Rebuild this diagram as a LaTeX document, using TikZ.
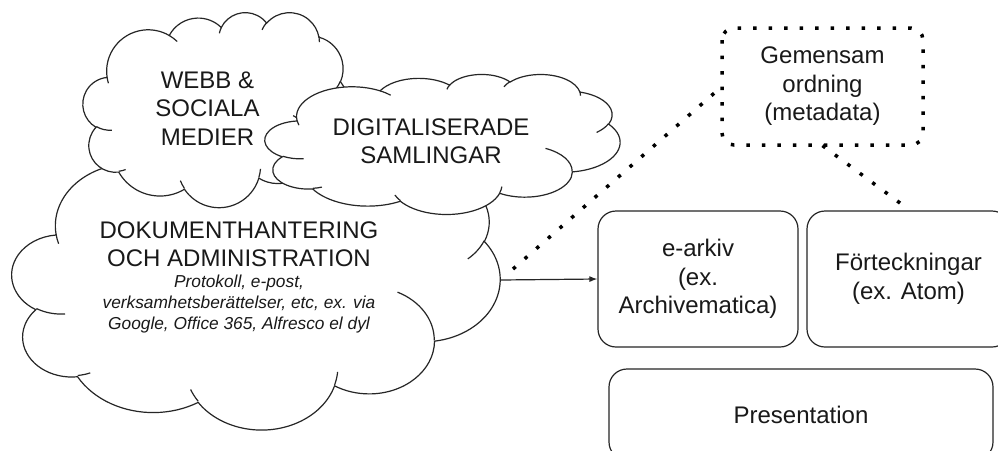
\documentclass[tikz,border=0pt]{standalone}
\usepackage{fontspec}
\setmainfont{Liberation Sans}
\usetikzlibrary{arrows.meta,calc}

% OOXML-style cloud arc: wR hR stAng swAng (visual angles, degrees)
\newcommand\cloudcalc[4]{%
  \pgfmathsetmacro\cta{atan2(#1*sin(#3),#2*cos(#3))}%
  \pgfmathsetmacro\cte{atan2(#1*sin(#3+#4),#2*cos(#3+#4))}%
  \pgfmathsetmacro\cte{\cte<\cta ? \cte+360 : \cte}%
  \xdef\cta{\cta}\xdef\cte{\cte}}
\newcommand\carc[4]{\pgfextra{\cloudcalc{#1}{#2}{#3}{#4}} arc[start angle=\cta, end angle=\cte, x radius=#1, y radius=#2]}

\tikzset{
  cloudline/.style={draw=black!85, line width=1.2pt, fill=white},
  bigtxt/.style={font=\fontsize{24}{28.5}\selectfont, align=center, inner sep=0pt, text=black!90},
  smalltxt/.style={font=\itshape\fontsize{17.3}{21}\selectfont, align=center, inner sep=0pt, text=black!90},
  boxstyle/.style={draw=black!85, line width=1.2pt, rounded corners=18pt, align=center,
    font=\fontsize{24}{28.5}\selectfont, text=black!90, inner sep=0pt},
  dotline/.style={line width=3.5pt, dash pattern=on 3.5pt off 12pt, black},
  arrowline/.style={draw=black!85, line width=1.2pt, -{Latex[length=8pt,width=6pt]}}
}

\newcommand\drawcloud[4]{%
\begin{scope}[shift={(#1,#2)}, x=#3pt, y=-#4pt]
  \path[cloudline] (39,143.70) \carc{67.53}{91.90}{-190.4875}{123.7805}
    \carc{53.33}{72.67}{-144.1024}{89.9452}
    \carc{43.65}{59.45}{-145.8079}{99.7230}
    \carc{48.57}{65.95}{-130.9861}{117.2417}
    \carc{53.33}{72.73}{-78.7089}{109.0269}
    \carc{67.75}{92.20}{-46.2673}{130.2690}
    \carc{57.85}{78.67}{0.6250}{114.0333}
    \carc{67.52}{92.15}{22.4516}{115.1726}
    \carc{77.20}{105.43}{66.2426}{75.7110}
    \carc{43.60}{59.18}{-274.9421}{146.7356}
    \carc{43.45}{59.45}{-246.8285}{152.5189} -- cycle;
  \path[cloudline, fill=none]
    (46.93,261.77) \carc{43.45}{59.45}{86.7420}{26.4295}
    (69.28,348.99) \carc{43.60}{59.18}{73.6105}{11.4475}
    (164.78,390.90) \carc{67.52}{92.15}{137.6242}{14.0811}
    (288.27,347.51) \carc{67.52}{92.15}{6.4533}{15.9984}
    (341.29,229.54) \carc{57.85}{78.67}{-70.2924}{70.9174}
    (417.98,153.54) \carc{53.33}{72.73}{30.3180}{27.7515}
    (383.24,54.26) \carc{48.57}{65.95}{-13.7443}{14.8589}
    (290.78,39.52) \carc{48.57}{65.95}{-149.1815}{18.1954}
    (221.41,47.20) \carc{43.65}{59.45}{-163.4943}{17.6864}
    (140.00,51.92) \carc{67.53}{91.90}{-66.7070}{12.3194}
    (41.27,157.89) \carc{67.53}{91.90}{157.6544}{11.8582};
\end{scope}}

\begin{document}
\begin{tikzpicture}[x=1pt, y=-1pt]
  \useasboundingbox (0,0) rectangle (998,450);
  \clip (0,0) rectangle (998,450);
  \fill[white] (0,0) rectangle (998,450);

  % clouds (back to front)
  \drawcloud{12}{137}{1.12963}{0.67593}
  \drawcloud{83}{12}{0.61574}{0.45139}
  \drawcloud{265}{74}{0.82176}{0.32407}

  \node[bigtxt] (webb) at (207.5,108.5) {WEBB \&\\SOCIALA\\MEDIER};
  \node[bigtxt] (dig) at (431,141) {DIGITALISERADE\\SAMLINGAR};
  \node[bigtxt] (dok) at (239,244) {DOKUMENTHANTERING\\OCH ADMINISTRATION};
  \node[smalltxt] (dokdesc) at (239,304) {Protokoll, e-post,\\verksamhetsberättelser, etc, ex. via\\Google, Office 365, Alfresco el dyl};

  % boxes
  \node[boxstyle, minimum width=200pt, minimum height=136pt] (earkiv) at (698,279) {e-arkiv\\(ex.\\Archivematica)};
  \node[boxstyle, minimum width=203pt, minimum height=136pt] (fort) at (908.5,279) {Förteckningar\\(ex. Atom)};
  \node[boxstyle, minimum width=384pt, minimum height=91pt] (pres) at (801,414.5) {Presentation};
  \node[boxstyle, draw=none, minimum width=201pt, minimum height=117pt] (gem) at (822.5,86.5) {Gemensam\\ordning\\(metadata)};
  \draw[dotline, rounded corners=12pt] (722,28) rectangle (923,145);

  % connectors
  \coordinate (dokR) at (501,280);
  \coordinate (d1) at (513,269);
  \coordinate (g1) at ($(gem.west)+(-7,6.5)$);
  \coordinate (f1) at ($(fort.north)+(-8,-7)$);
  \draw[arrowline] (dokR) -- (earkiv.west);
  \draw[dotline] (d1) -- (g1);
  \draw[dotline] (gem.south) -- (f1);
\end{tikzpicture}
\end{document}
